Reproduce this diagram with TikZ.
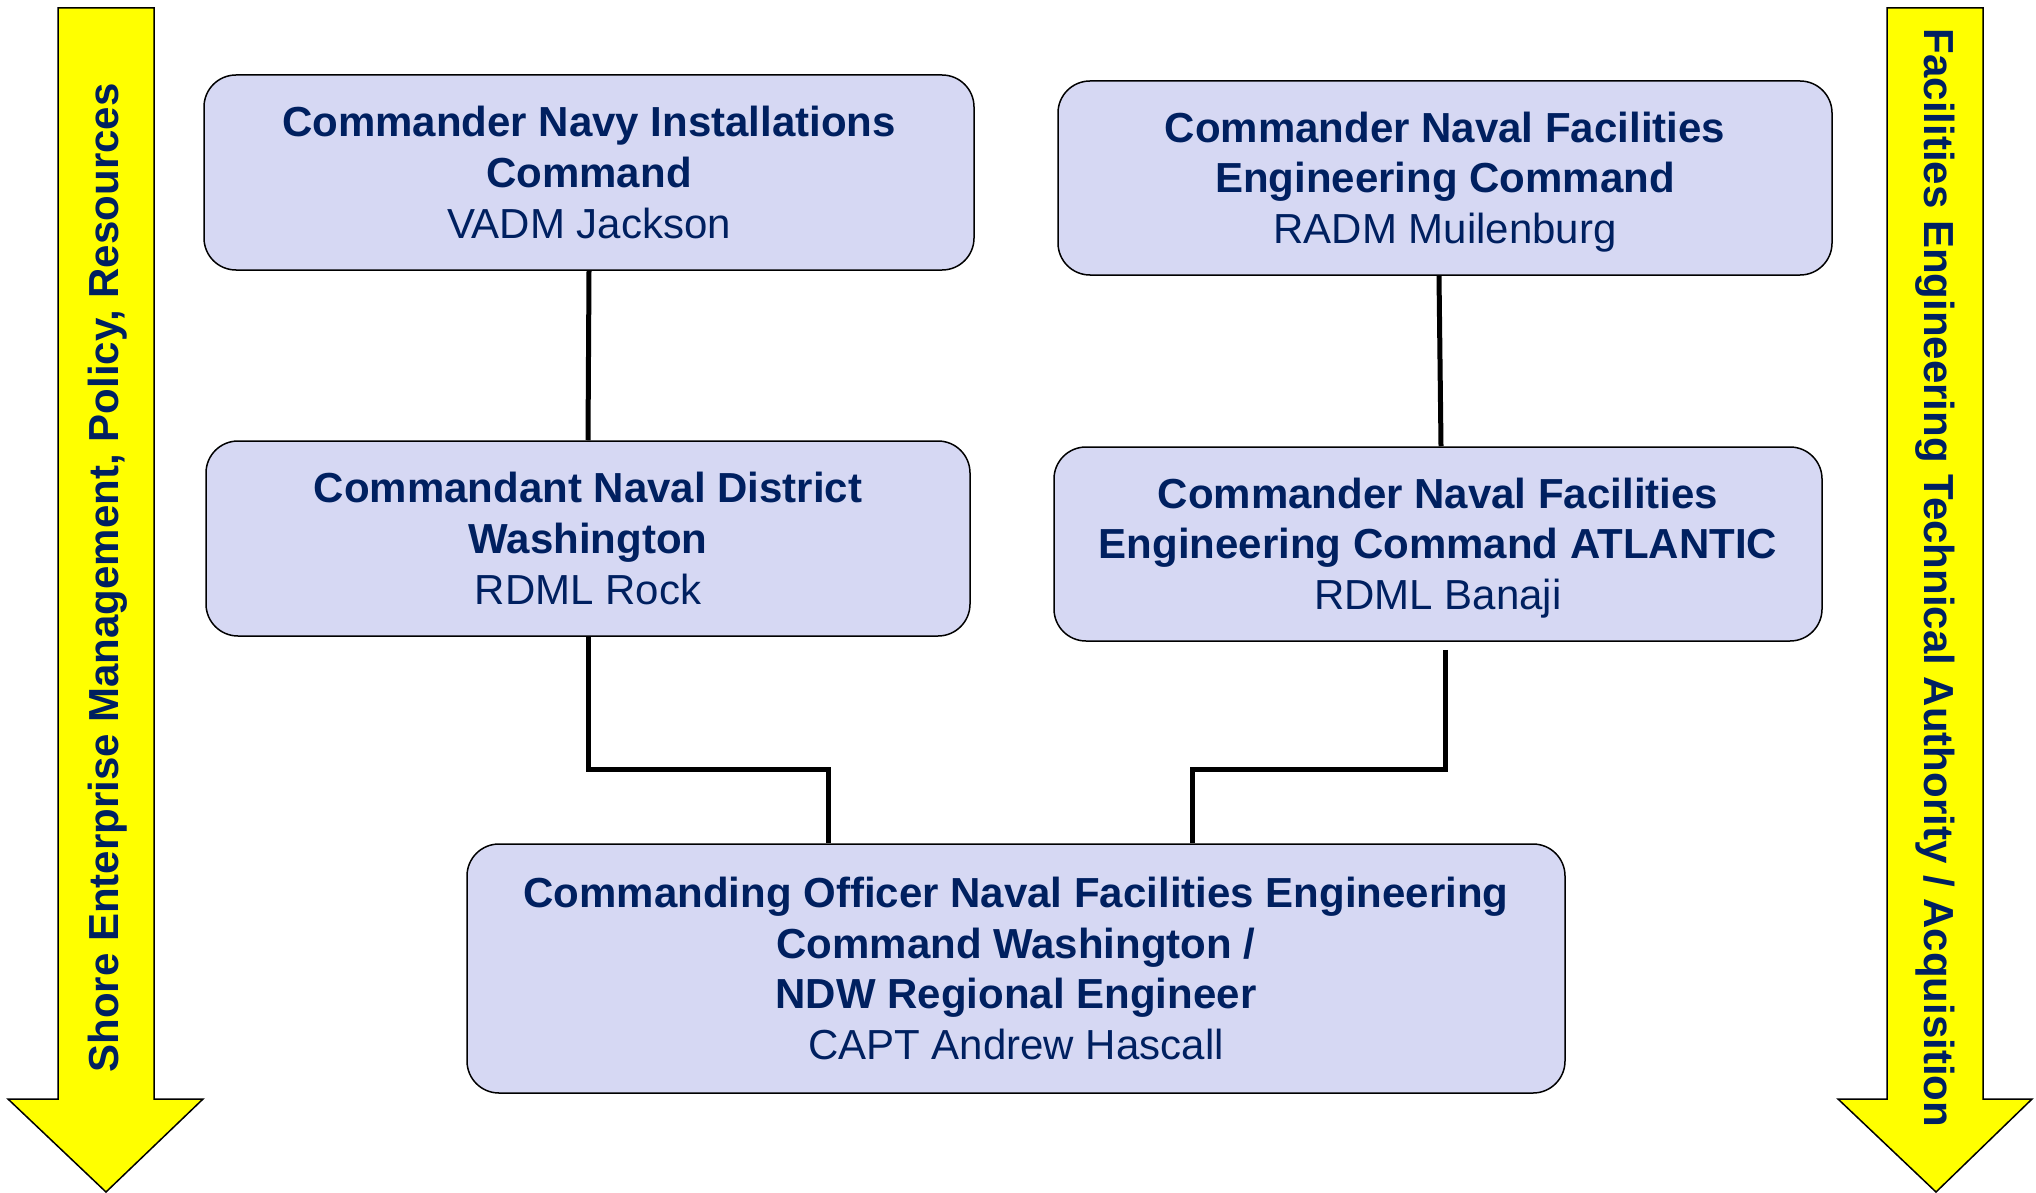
\documentclass[tikz,border=0pt]{standalone}
\usepackage{fontspec}
\setmainfont{Liberation Sans}
\definecolor{navy}{RGB}{0,32,96}
\definecolor{boxfill}{RGB}{214,216,243}
\definecolor{arrowyellow}{RGB}{255,255,0}
\begin{document}
\begin{tikzpicture}[x=1pt,y=-1pt,
  orgbox/.style={draw=black, line width=1.5pt, fill=boxfill, rounded corners=32pt, inner sep=0pt},
  boxtext/.style={align=center, text=navy, font=\fontsize{42}{50.6}\selectfont, inner sep=0pt},
  conn/.style={draw=black, line width=5pt},
  bigarrow/.style={draw=black, line width=1.5pt, fill=arrowyellow},
  arrowtext/.style={text=navy, font=\bfseries\fontsize{42}{50}\selectfont, inner sep=0pt}]
\useasboundingbox (0,0) rectangle (2036,1193);

% yellow arrows
\draw[bigarrow] (58,8) -- (154,8) -- (154,1099) -- (203,1099) -- (106,1192) -- (8,1099) -- (58,1099) -- cycle;
\draw[bigarrow] (1887,8) -- (1983,8) -- (1983,1099) -- (2032,1099) -- (1936,1192) -- (1838,1099) -- (1887,1099) -- cycle;
\node[arrowtext, rotate=90] (ltxt) at (108,578) {Shore Enterprise Management, Policy, Resources};
\node[arrowtext, rotate=-90] (rtxt) at (1935,578) {Facilities Engineering Technical Authority / Acquisition};

% boxes
\node[orgbox, minimum width=770pt, minimum height=195pt] (b1) at (589,172.5) {};
\node[boxtext] (b1t) at (b1.center)
  {\textbf{Commander Navy Installations}\\\textbf{Command}\\VADM Jackson};
\node[orgbox, minimum width=774pt, minimum height=194pt] (b2) at (1445,178) {};
\node[boxtext] (b2t) at ([yshift=-4pt]b2.center)
  {\textbf{Commander Naval Facilities}\\\textbf{Engineering Command}\\RADM Muilenburg};
\node[orgbox, minimum width=764pt, minimum height=195pt] (b3) at (588,538.5) {};
\node[boxtext] (b3t) at (b3.center)
  {\textbf{Commandant Naval District}\\\textbf{Washington}\\RDML Rock};
\node[orgbox, minimum width=768pt, minimum height=194pt] (b4) at (1438,544) {};
\node[boxtext] (b4t) at ([yshift=-4pt]b4.center)
  {\textbf{Commander Naval Facilities}\\\textbf{Engineering Command ATLANTIC}\\RDML Banaji};
\node[orgbox, minimum width=1098pt, minimum height=249pt] (b5) at (1016,968.5) {};
\node[boxtext] (b5t) at (b5.center)
  {\textbf{Commanding Officer Naval Facilities Engineering}\\\textbf{Command Washington /}\\\textbf{NDW Regional Engineer}\\CAPT Andrew Hascall};

% connectors
\coordinate (m1) at (828,769);
\coordinate (m2) at (1192,769);
\draw[conn] (b1.south) -- (b3.north);
\draw[conn] ([xshift=-6pt]b2.south) -- ([xshift=3pt]b4.north);
\draw[conn] (b3.south) |- (m1) -- (m1 |- b5.north);
\draw[conn] ([xshift=7pt,yshift=-8pt]b4.south) |- (m2) -- (m2 |- b5.north);
\end{tikzpicture}
\end{document}
